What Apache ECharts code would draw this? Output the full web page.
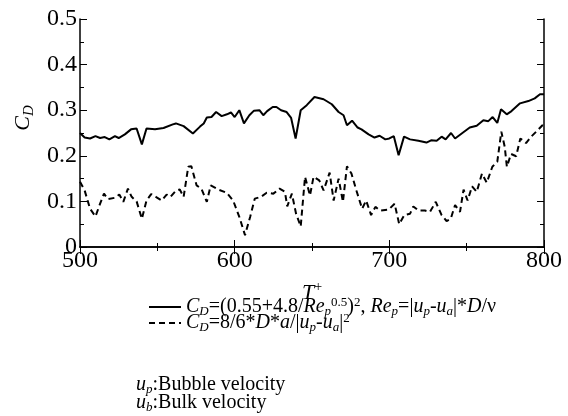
<!DOCTYPE html>
<html>
<head>
<meta charset="utf-8">
<script src="https://cdn.jsdelivr.net/npm/echarts@6.0.0/dist/echarts.min.js"></script>
<style>
  html, body { margin: 0; padding: 0; background: #fff; }
  #main { width: 568px; height: 416px; }
</style>
</head>
<body>
<div id="main"></div>
<script>
// T+ positions and C_D values, solid curve (fit formula)
var tSolid = [500, 503, 506.5, 510, 513, 516, 519, 522.6, 525, 529, 533, 536.6, 540, 543, 548.5, 554, 560, 562, 567, 573,
  577.6, 580, 582, 585, 588, 591.6, 595, 597.6, 600, 603, 606, 609.5, 612.5, 616, 618.5, 621, 624.6, 627, 630, 633.6,
  636.5, 639.4, 642.7, 646.6, 651.6, 657.5, 662.8, 667.2, 670.4, 672.6, 675.9, 679.5, 682, 686.6, 690.4, 693.7, 697.4, 700, 702.9, 706,
  709.5, 713.4, 718.8, 724, 727, 730.6, 733.8, 736.4, 739.9, 742.5, 746.8, 752, 756.5, 760.8, 764, 766.8, 769.8, 772.2, 775.9, 779,
  784.5, 789.9, 794, 797.4, 800];
var cdSolid = [0.250, 0.240, 0.238, 0.243, 0.239, 0.241, 0.236, 0.243, 0.239, 0.247, 0.258, 0.260, 0.225, 0.260, 0.258, 0.261, 0.269, 0.271, 0.265, 0.249,
  0.264, 0.271, 0.284, 0.285, 0.296, 0.287, 0.291, 0.295, 0.285, 0.300, 0.271, 0.289, 0.299, 0.300, 0.289, 0.298, 0.307, 0.307, 0.300, 0.296,
  0.283, 0.238, 0.300, 0.311, 0.329, 0.324, 0.313, 0.296, 0.289, 0.267, 0.277, 0.262, 0.258, 0.247, 0.240, 0.244, 0.236, 0.238, 0.243, 0.201,
  0.242, 0.236, 0.233, 0.229, 0.234, 0.233, 0.242, 0.236, 0.250, 0.238, 0.249, 0.262, 0.266, 0.278, 0.276, 0.285, 0.272, 0.302, 0.291, 0.298,
  0.315, 0.320, 0.326, 0.335, 0.335];

// dashed curve (acceleration formula)
var tDashed = [500, 503, 506.5, 510, 513, 515.5, 518, 522.6, 525.4, 528, 531, 533.4, 536.6, 540, 543, 546, 549, 552.8, 556, 558.5,
  561.9, 564.5, 567, 570, 572, 575.4, 578.5, 582, 584.5, 589.4, 594.8, 599, 603, 606.7, 610, 613, 617, 620.7, 625, 629,
  632.5, 634, 637, 639.7, 642.7, 645.5, 648.7, 651, 654.7, 657.5, 661.4, 664, 667.2, 670, 672.6, 675.5, 678.7, 682.4, 685, 688.2,
  691, 694, 699.6, 703.4, 706.4, 709.7, 713.4, 715.5, 718.8, 723, 726.3, 730, 733.8, 737, 739.7, 742.5, 745.7, 748, 750.6, 753.5,
  756.5, 759.9, 763, 766.6, 769.8, 772.4, 774.6, 776, 778.7, 782, 784.7, 788.4, 792, 795.9, 799, 800];
var cdDashed = [0.143, 0.124, 0.084, 0.067, 0.095, 0.117, 0.105, 0.108, 0.115, 0.099, 0.128, 0.110, 0.100, 0.062, 0.102, 0.116, 0.110, 0.102, 0.115, 0.110,
  0.123, 0.126, 0.110, 0.176, 0.177, 0.135, 0.128, 0.099, 0.135, 0.126, 0.119, 0.102, 0.066, 0.026, 0.066, 0.106, 0.110, 0.119, 0.117, 0.128,
  0.121, 0.089, 0.117, 0.073, 0.045, 0.154, 0.113, 0.154, 0.146, 0.124, 0.163, 0.102, 0.150, 0.099, 0.177, 0.161, 0.124, 0.084, 0.102, 0.070,
  0.088, 0.080, 0.082, 0.095, 0.050, 0.070, 0.073, 0.089, 0.080, 0.080, 0.077, 0.099, 0.070, 0.057, 0.062, 0.092, 0.077, 0.126, 0.102, 0.133,
  0.121, 0.161, 0.141, 0.176, 0.187, 0.253, 0.220, 0.176, 0.204, 0.199, 0.238, 0.228, 0.243, 0.256, 0.267, 0.265];

var xTicks = [500, 600, 700, 800];
var yTicks = [0, 0.1, 0.2, 0.3, 0.4, 0.5];

var serif = "Liberation Serif";

function pairs(xs, ys) {
  return xs.map(function (x, i) { return [x, ys[i]]; });
}

// rich styles shared by formula texts
function richSet(size) {
  var small = Math.round(size * 0.66);
  return {
    n: { fontFamily: serif, fontSize: size, color: "#000", lineHeight: 22 },
    i: { fontFamily: serif, fontSize: size, fontStyle: "italic", color: "#000", lineHeight: 22 },
    sub: { fontFamily: serif, fontSize: small, fontStyle: "italic", color: "#000", lineHeight: 12, verticalAlign: "bottom" },
    sup: { fontFamily: serif, fontSize: small, color: "#000", lineHeight: 12, verticalAlign: "top" },
  };
}

var legendText = {
  fit: "{i|C}{sub|D}{n|=(0.55+4.8/}{i|Re}{sub|p}{sup|0.5}{n|)}{sup|2}{n|, }{i|Re}{sub|p}{n|=|}{i|u}{sub|p}{n|-}{i|u}{sub|a}{n||*}{i|D}{n|/ν}",
  acc: "{i|C}{sub|D}{n|=8/6*}{i|D}{n|*}{i|a}{n|/|}{i|u}{sub|p}{n|-}{i|u}{sub|a}{n||}{sup|2}",
};

var myChart = echarts.init(document.getElementById("main"));

var axisLineStyle = { color: "#000", width: 1.5 };

var option = {
  backgroundColor: "#fff",
  animation: false,
  grid: {
    left: 80,
    right: 24,
    top: 19,
    bottom: 169,
    outerBoundsMode: "none",
  },
  legend: {
    orient: "vertical",
    left: 148,
    top: 296,
    padding: 0,
    itemWidth: 32,
    itemHeight: 14,
    itemGap: -6,
    selectedMode: false,
    itemStyle: { opacity: 0 },
    data: ["fit", "acc"],
    formatter: function (name) {
      return legendText[name];
    },
    textStyle: { rich: richSet(20) },
  },
  graphic: [
    {
      type: "text",
      left: 136,
      top: 375,
      style: { text: "{i|u}{sub|p}{n|:Bubble velocity}", rich: richSet(20) },
    },
    {
      type: "text",
      left: 136,
      top: 393,
      style: { text: "{i|u}{sub|b}{n|:Bulk velocity}", rich: richSet(20) },
    },
  ],
  xAxis: [
    {
      type: "value",
      min: 500,
      max: 800,
      interval: 100,
      name: "{i|T}{sup|+}",
      nameLocation: "middle",
      nameGap: 33,
      nameTextStyle: {
        rich: {
          i: { fontFamily: serif, fontSize: 22, fontStyle: "italic", color: "#000", lineHeight: 26 },
          sup: { fontFamily: serif, fontSize: 14, color: "#000", lineHeight: 14, verticalAlign: "top" },
        },
      },
      axisLine: { lineStyle: axisLineStyle },
      axisTick: { inside: true, length: 7, lineStyle: { color: "#000" } },
      minorTick: { show: true, splitNumber: 2, length: 4, lineStyle: { color: "#000" } },
      splitLine: { show: false },
      axisLabel: {
        margin: 2,
        fontFamily: serif,
        fontSize: 24,
        color: "#000",
        formatter: function (v) {
          return xTicks.indexOf(v) >= 0 ? String(v) : "";
        },
      },
    },
    {
      type: "value",
      position: "top",
      min: 500,
      max: 800,
      interval: 100,
      axisLine: { lineStyle: axisLineStyle },
      axisTick: { inside: true, length: 7, lineStyle: { color: "#000" } },
      minorTick: { show: true, splitNumber: 2, length: 4, lineStyle: { color: "#000" } },
      splitLine: { show: false },
      axisLabel: { show: false },
    },
  ],
  yAxis: [
    {
      type: "value",
      min: 0,
      max: 0.5,
      interval: 0.1,
      name: "{i|C}{sub|D}",
      nameLocation: "middle",
      nameRotate: 90,
      nameGap: 42,
      nameTextStyle: {
        padding: [0, 0, 0, 30],
        rich: {
          i: { fontFamily: serif, fontSize: 22, fontStyle: "italic", color: "#000", lineHeight: 26 },
          sub: { fontFamily: serif, fontSize: 15, fontStyle: "italic", color: "#000", lineHeight: 14, verticalAlign: "bottom" },
        },
      },
      axisLine: { lineStyle: axisLineStyle },
      axisTick: { inside: true, length: 7, lineStyle: { color: "#000" } },
      minorTick: { show: true, splitNumber: 2, length: 4, lineStyle: { color: "#000" } },
      splitLine: { show: false },
      axisLabel: {
        margin: 3,
        fontFamily: serif,
        fontSize: 24,
        color: "#000",
        formatter: function (v) {
          var r = Math.round(v * 10) / 10;
          return yTicks.indexOf(r) >= 0 ? String(r) : "";
        },
      },
    },
    {
      type: "value",
      position: "right",
      min: 0,
      max: 0.5,
      interval: 0.1,
      axisLine: { lineStyle: axisLineStyle },
      axisTick: { inside: true, length: 7, lineStyle: { color: "#000" } },
      minorTick: { show: true, splitNumber: 2, length: 4, lineStyle: { color: "#000" } },
      splitLine: { show: false },
      axisLabel: { show: false },
    },
  ],
  series: [
    {
      name: "fit",
      type: "line",
      symbol: "none",
      data: pairs(tSolid, cdSolid),
      lineStyle: { color: "#000", width: 2, type: "solid" },
      itemStyle: { color: "#000" },
    },
    {
      name: "acc",
      type: "line",
      symbol: "none",
      data: pairs(tDashed, cdDashed),
      lineStyle: { color: "#000", width: 2, type: [6, 4] },
      itemStyle: { color: "#000" },
    },
  ],
};

myChart.setOption(option);
window.onresize = function () {
  myChart.resize();
};
</script>
</body>
</html>
